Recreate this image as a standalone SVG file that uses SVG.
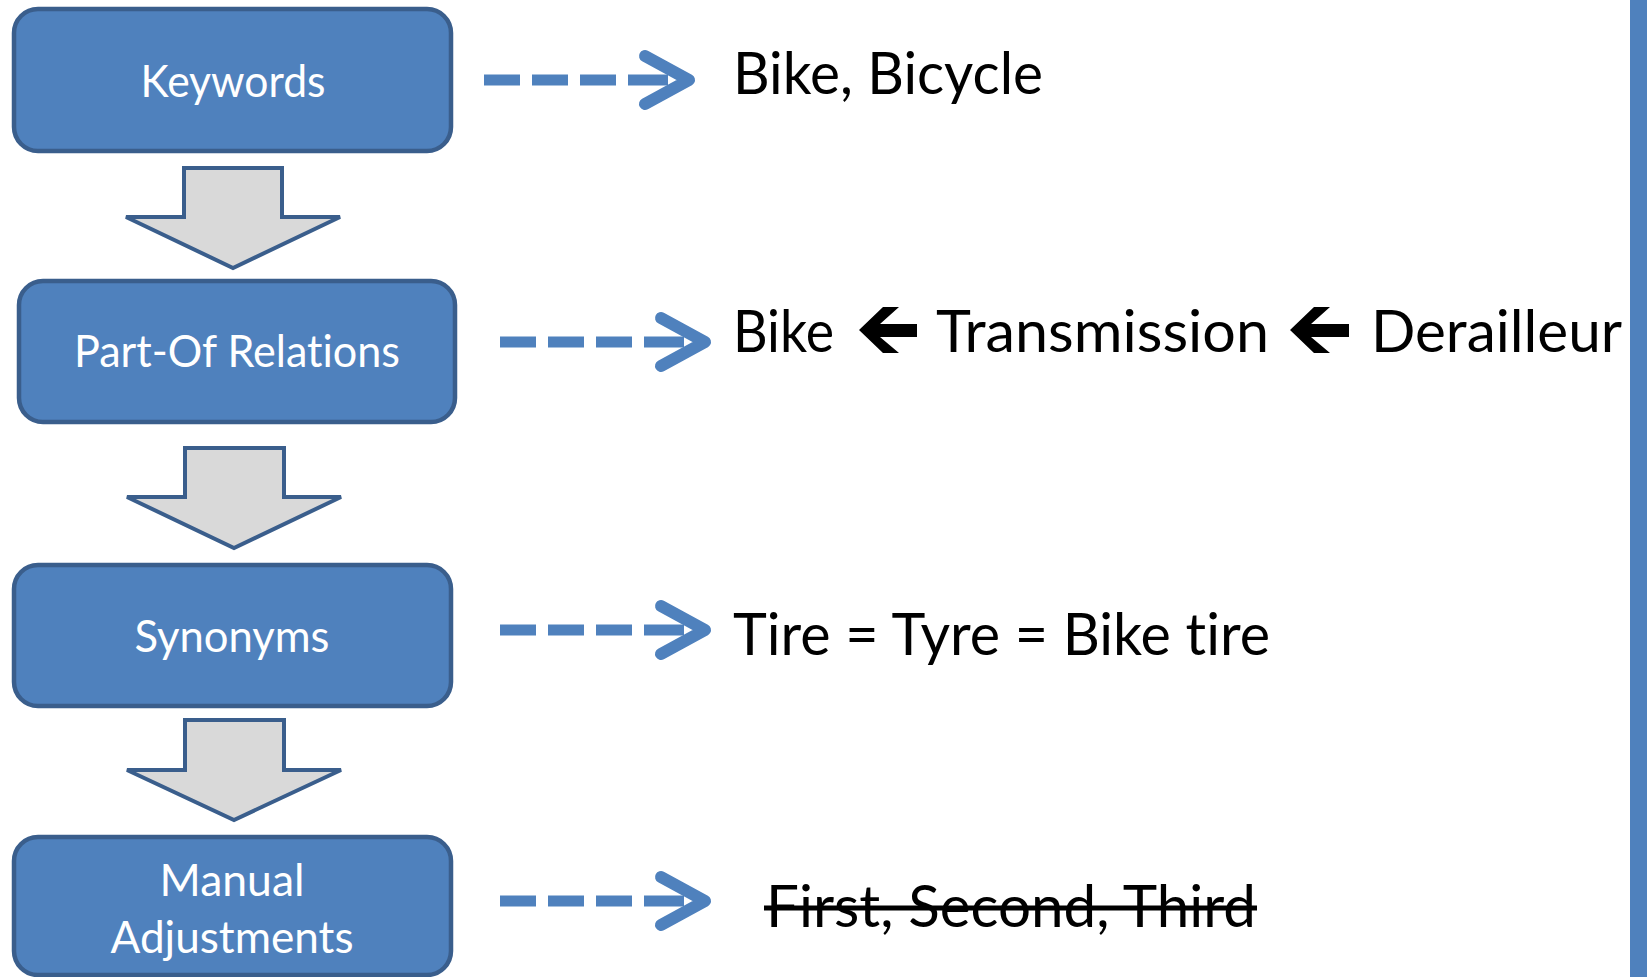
<svg xmlns="http://www.w3.org/2000/svg" width="1647" height="977" viewBox="0 0 1647 977">
  <style>
    .box { fill: #4F81BD; stroke: #3A5E8C; stroke-width: 4.5; }
    .down { fill: #D9D9D9; stroke: #3A5E8C; stroke-width: 4; stroke-linejoin: miter; }
    .lbl { font-family: Lato, "Open Sans", "Liberation Sans", sans-serif; font-size: 45px; fill: #FFFFFF; text-anchor: middle; font-variant-ligatures: none; }
    .out { font-family: Lato, "Open Sans", "Liberation Sans", sans-serif; font-size: 58px; fill: #000000; font-variant-ligatures: none; }
    .dash { stroke: #4F81BD; stroke-width: 11; fill: none; stroke-dasharray: 36 12 36 12 36 12 60; }
    .chev { stroke: #4F81BD; stroke-width: 12; fill: none; stroke-linecap: round; stroke-linejoin: round; }
    .larrow { fill: #000000; }
  </style>
  <rect width="1647" height="977" fill="#FFFFFF"/>

  <g id="node-keywords">
    <rect class="box" x="14" y="9" width="437" height="142" rx="24"/>
    <text class="lbl" x="233" y="97" textLength="185" lengthAdjust="spacingAndGlyphs">Keywords</text>
  </g>
  <g id="node-partof">
    <rect class="box" x="19" y="281" width="436" height="141" rx="24"/>
    <text class="lbl" x="237" y="367" textLength="326" lengthAdjust="spacingAndGlyphs">Part-Of Relations</text>
  </g>
  <g id="node-synonyms">
    <rect class="box" x="14" y="565" width="437" height="141" rx="24"/>
    <text class="lbl" x="232" y="652" textLength="195" lengthAdjust="spacingAndGlyphs">Synonyms</text>
  </g>
  <g id="node-manual">
    <rect class="box" x="14" y="837" width="437" height="138" rx="24"/>
    <text class="lbl" x="232" y="896" textLength="145" lengthAdjust="spacingAndGlyphs">Manual</text>
    <text class="lbl" x="232" y="953" textLength="243" lengthAdjust="spacingAndGlyphs">Adjustments</text>
  </g>

  <g id="connectors">
    <polygon class="down" points="184,168 282,168 282,217 340,217 233,268 126,217 184,217"/>
    <polygon class="down" points="185,448 284,448 284,497 341,497 234,548 127,497 185,497"/>
    <polygon class="down" points="185,720 284,720 284,770 341,770 234,820 127,770 185,770"/>

    <line class="dash" x1="484" y1="80" x2="668" y2="80"/>
    <polyline class="chev" points="645,56 689,80 645,104"/>
    <line class="dash" x1="500" y1="342" x2="684" y2="342"/>
    <polyline class="chev" points="661,318 705,342 661,366"/>
    <line class="dash" x1="500" y1="630" x2="684" y2="630"/>
    <polyline class="chev" points="661,606 705,630 661,654"/>
    <line class="dash" x1="500" y1="901" x2="684" y2="901"/>
    <polyline class="chev" points="661,877 705,901 661,925"/>
  </g>

  <g id="out-keywords">
    <text class="out" x="733" y="94" textLength="310" lengthAdjust="spacingAndGlyphs">Bike, Bicycle</text>
  </g>
  <g id="out-partof">
    <text class="out" x="733" y="352" textLength="101" lengthAdjust="spacingAndGlyphs">Bike</text>
    <polygon class="larrow" points="859,330 883,307 899,307 880,324 917,324 917,337 880,337 899,353 883,353"/>
    <text class="out" x="936" y="352" textLength="333" lengthAdjust="spacingAndGlyphs">Transmission</text>
    <polygon class="larrow" points="1290,330 1314,307 1330,307 1311,324 1349,324 1349,337 1311,337 1330,353 1314,353"/>
    <text class="out" x="1371" y="352" textLength="251" lengthAdjust="spacingAndGlyphs">Derailleur</text>
  </g>
  <g id="out-synonyms">
    <text class="out" x="733" y="655" textLength="537" lengthAdjust="spacingAndGlyphs">Tire = Tyre = Bike tire</text>
  </g>
  <g id="out-manual">
    <text class="out" x="766" y="927" textLength="490" lengthAdjust="spacingAndGlyphs">First, Second, Third</text>
    <line x1="764" y1="908" x2="1257" y2="908" stroke="#000000" stroke-width="5"/>
  </g>

  <rect id="side-bar" x="1630" y="0" width="17" height="977" fill="#4F81BD"/>
</svg>
